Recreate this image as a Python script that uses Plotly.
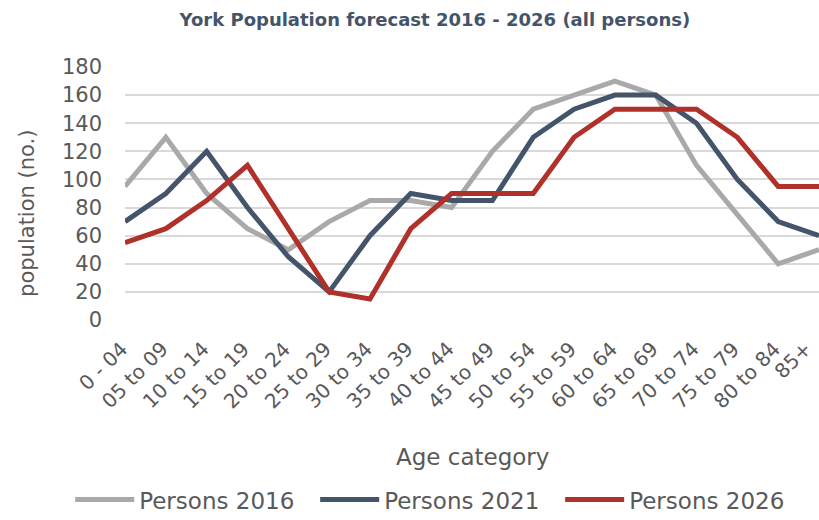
import plotly.graph_objects as go

categories = ["0 - 04", "05 to 09", "10 to 14", "15 to 19", "20 to 24", "25 to 29",
              "30 to 34", "35 to 39", "40 to 44", "45 to 49", "50 to 54", "55 to 59",
              "60 to 64", "65 to 69", "70 to 74", "75 to 79", "80 to 84", "85+"]
persons_2016 = [95, 130, 90, 65, 50, 70, 85, 85, 80, 120, 150, 160, 170, 160, 110, 75, 40, 50]
persons_2021 = [70, 90, 120, 80, 45, 20, 60, 90, 85, 85, 130, 150, 160, 160, 140, 100, 70, 60]
persons_2026 = [55, 65, 85, 110, 65, 20, 15, 65, 90, 90, 90, 130, 150, 150, 150, 130, 95, 95]
y_ticks = [0, 20, 40, 60, 80, 100, 120, 140, 160, 180]

series = [
    ("Persons 2016", persons_2016, "#A9A9A9"),
    ("Persons 2021", persons_2021, "#44546A"),
    ("Persons 2026", persons_2026, "#B0302A"),
]

FONT = "DejaVu Sans"
TXT = "#595959"
fig = go.Figure()
for name, vals, color in series:
    fig.add_trace(go.Scatter(x=list(range(len(categories))), y=vals, name=name, mode="lines",
                             line=dict(color=color, width=5)))

annotations = [
    dict(text="population (no.)", xref="paper", yref="paper", x=-0.141, y=0.42,
         textangle=-90, showarrow=False, xanchor="center", yanchor="middle",
         font=dict(size=21, color=TXT)),
    dict(text="Age category", xref="paper", yref="paper", x=0.5, y=-0.5415,
         showarrow=False, xanchor="center", yanchor="middle",
         font=dict(size=23, color=TXT)),
]
# category tick labels, rotated
n = len(categories)
for i, lab in enumerate(categories):
    annotations.append(dict(text=lab, xref="x", yref="y", x=i, y=0, showarrow=False,
                            textangle=-45, xanchor="right", yanchor="top",
                            xshift=10 if i < n - 1 else 0, yshift=-14,
                            font=dict(size=20, color=TXT)))

fig.update_layout(
    width=819, height=520,
    paper_bgcolor="white", plot_bgcolor="white",
    margin=dict(l=125, r=0, t=67, b=200, autoexpand=False),
    font=dict(family=FONT, color=TXT),
    title=dict(text="<b>York Population forecast 2016 - 2026 (all persons)</b>",
               x=0.531, xanchor="center", y=0.9615, yanchor="middle",
               font=dict(size=18, color="#44546A", family=FONT)),
    showlegend=True,
    legend=dict(orientation="h", x=-0.079, xanchor="left", y=-0.71, yanchor="middle",
                font=dict(size=23, color=TXT), entrywidth=171, entrywidthmode="pixels",
                itemwidth=59, tracegroupgap=0),
    annotations=annotations,
)
fig.update_xaxes(
    range=[0, n - 1], automargin=False,
    showticklabels=False,
    showgrid=False, zeroline=False, showline=False, ticks="",
)
fig.update_yaxes(
    range=[0, 180], automargin=False, tickmode="array", tickvals=y_ticks,
    tickfont=dict(size=21, color=TXT),
    showgrid=True, gridcolor="#D9D9D9", gridwidth=1.5, zeroline=False, showline=False,
    ticks="", ticklabelstandoff=22, ticklabeloverflow="allow",
)
fig.write_html("out.html", config={"displayModeBar": False},
               post_script="document.body.style.margin='0px';")
